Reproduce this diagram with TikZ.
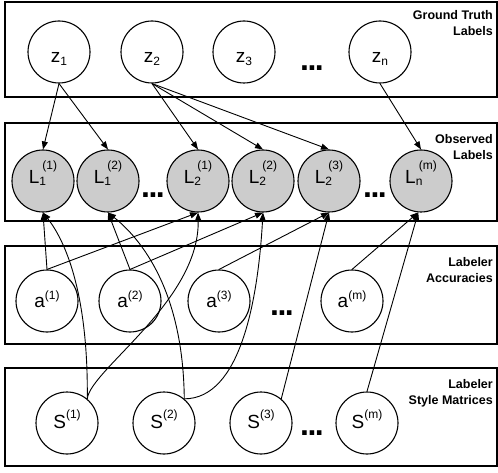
\documentclass[tikz,border=0pt]{standalone}
\usepackage{fontspec}
\setmainfont{Liberation Sans}
\usetikzlibrary{arrows.meta}
\definecolor{obsgray}{RGB}{204,204,204}
\newcommand{\smallfs}[1]{{\fontsize{12}{12}\selectfont #1}}
\newcommand{\zlab}[1]{\raisebox{-11pt}{z\raisebox{-3pt}{\smallfs{#1}}}}
\newcommand{\alab}[1]{\raisebox{-6pt}{a\raisebox{7.5pt}{\smallfs{(#1)}}}}
\newcommand{\slab}[1]{\raisebox{-5pt}{S\raisebox{9.5pt}{\smallfs{(#1)}}}}
\newcommand{\llab}[2]{\raisebox{-3pt}{L\rlap{\raisebox{-2pt}{\smallfs{#1}}}\hspace{3pt}\raisebox{14pt}{\smallfs{(#2)}}}}
\begin{document}
\begin{tikzpicture}[x=1pt,y=1pt,
  panel/.style={draw,line width=2pt},
  var/.style={draw,circle,line width=1.1pt,minimum size=62pt,inner sep=0pt,text height=0pt,text depth=0pt,font=\fontsize{19}{19}\selectfont},
  obs/.style={var,fill=obsgray},
  edge/.style={-{Triangle[length=8pt,width=6pt]},line width=0.9pt},
  plate/.style={font=\bfseries\fontsize{12.5}{16}\selectfont,align=right,anchor=north east,inner sep=0pt},
  ell/.style={font=\bfseries\fontsize{32}{32}\selectfont,anchor=base,inner sep=0pt}]
\useasboundingbox (0,0) rectangle (498,-473);
% panels
\draw[panel] (5,-2) rectangle (497,-97);
\draw[panel] (5,-123) rectangle (497,-221);
\draw[panel] (5,-246) rectangle (497,-344);
\draw[panel] (5,-368) rectangle (497,-466);
% plate labels
\node[plate] (p1) at (493,-10) {Ground Truth\\Labels};
\node[plate] (p2) at (493,-134) {Observed\\Labels};
\node[plate] (p3) at (493,-257.5) {Labeler\\Accuracies};
\node[plate] (p4) at (493,-379) {Labeler\\Style Matrices};
% row 1
\node[var] (z1) at (59,-52) {\zlab{1}};
\node[var] (z2) at (152,-52) {\zlab{2}};
\node[var] (z3) at (244,-52) {\zlab{3}};
\node[var] (zn) at (380,-52) {\zlab{n}};
\node[ell] (d1) at (312,-71) {.\kern-1.5pt.\kern-1.5pt.};
% row 2
\node[obs] (L11) at (43,-181) {\llab{1}{1}};
\node[obs] (L12) at (108,-181) {\llab{1}{2}};
\node[obs] (L21) at (198,-181) {\llab{2}{1}};
\node[obs] (L22) at (263,-181) {\llab{2}{2}};
\node[obs] (L23) at (329,-181) {\llab{2}{3}};
\node[obs] (Lnm) at (421,-181) {\llab{n}{m}};
\node[ell] (d2) at (153,-198) {.\kern-1.5pt.\kern-1.5pt.};
\node[ell] (d3) at (375,-198) {.\kern-1.5pt.\kern-1.5pt.};
% row 3
\node[var] (a1) at (47,-301) {\alab{1}};
\node[var] (a2) at (130,-301) {\alab{2}};
\node[var] (a3) at (219,-301) {\alab{3}};
\node[var] (am) at (352,-301) {\alab{m}};
\node[ell] (d4) at (282,-315) {.\kern-1.5pt.\kern-1.5pt.};
% row 4
\node[var] (S1) at (67,-423) {\slab{1}};
\node[var] (S2) at (164,-423) {\slab{2}};
\node[var] (S3) at (261,-423) {\slab{3}};
\node[var] (Sm) at (367,-423) {\slab{m}};
\node[ell] (d5) at (312,-435) {.\kern-1.5pt.\kern-1.5pt.};
% edges from z
\draw[edge] (z1.south) -- (L11.north);
\draw[edge] (z1.south) -- (L12.north);
\draw[edge] (z2.south) -- (L21.north);
\draw[edge] (z2.south) -- (L22.north);
\draw[edge] (z2.south) -- (L23.north);
\draw[edge] (zn.south) -- (Lnm.north);
% edges from a
\draw[edge] (a1.north) -- (L11.south);
\draw[edge] (a1.north) -- (L21.south);
\draw[edge] (a2.north) -- (L12.south);
\draw[edge] (a2.north) -- (L22.south);
\draw[edge] (a3.north) -- (L23.south);
\draw[edge] (am.north) -- (Lnm.265);
% edges from S
\draw[edge] (S1.50) .. controls +(1,99) and +(25,-32) .. (L11.south);
\draw[edge] (S1.50) .. controls +(3,29) and +(2,-88) .. (L21.south);
\draw[edge] (S2.50) .. controls +(-1,99) and +(40,-32) .. (L12.south);
\draw[edge] (S2.50) .. controls +(56,0) and +(-5,-88) .. (L22.south);
\draw[edge] (S3.50) -- (L23.south);
\draw[edge] (Sm.north) -- (Lnm.265);
\end{tikzpicture}
\end{document}
